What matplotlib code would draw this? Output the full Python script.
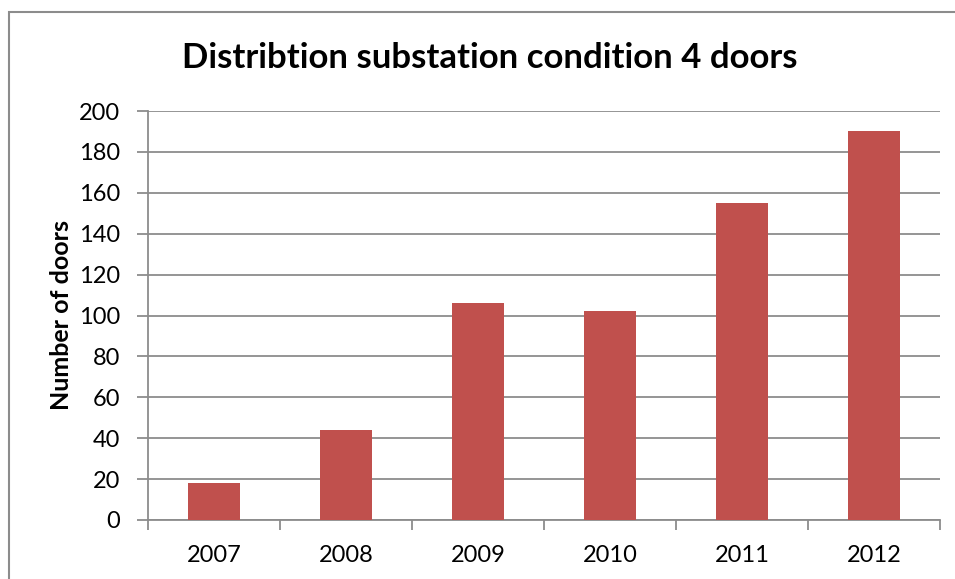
import matplotlib.pyplot as plt
from matplotlib.patches import Rectangle
import numpy as np

years = ['2007', '2008', '2009', '2010', '2011', '2012']
doors = [18, 44, 106, 102, 155, 190]
y_ticks = [0, 20, 40, 60, 80, 100, 120, 140, 160, 180, 200]

plt.rcParams['font.family'] = ['Lato', 'DejaVu Sans']

fig = plt.figure(figsize=(9.55, 5.79), dpi=100)
ax = fig.add_axes([148 / 955, 59 / 579, 792 / 955, 409 / 579])

# outer chart border, runs off the right and bottom of the image
fig.patches.append(Rectangle((8.5 / 955, -0.05), 1.0, (579 - 11.5) / 579 + 0.05,
                             transform=fig.transFigure, fill=False,
                             edgecolor='#8c8c8c', linewidth=1.5))

x = np.arange(len(years))
ax.bar(x, doors, width=0.4, color='#c0504d', zorder=3)

ax.set_xlim(-0.5, len(years) - 0.5)
ax.set_ylim(0, 200)
ax.set_yticks(y_ticks)
ax.set_xticks(x)
ax.set_xticklabels(years)
ax.set_xticks(np.arange(-0.5, len(years), 1.0), minor=True)

ax.yaxis.grid(True, color='#8c8c8c', linewidth=1.3, zorder=0)
ax.tick_params(axis='y', length=8, width=1.3, color='#8c8c8c', labelsize=17, pad=12)
ax.tick_params(axis='x', which='major', length=0, labelsize=17, pad=18)
ax.tick_params(axis='x', which='minor', length=7, width=1.3, color='#8c8c8c')

for side in ['top', 'right']:
    ax.spines[side].set_visible(False)
for side in ['left', 'bottom']:
    ax.spines[side].set_color('#8c8c8c')
    ax.spines[side].set_linewidth(1.3)

ax.set_ylabel('Number of doors', fontsize=18, fontweight='bold', labelpad=4)
fig.text(490 / 955, 1 - 58 / 579, 'Distribtion substation condition 4 doors',
         ha='center', va='center', fontsize=25, fontweight='bold')

plt.savefig('out.png', dpi=100)
